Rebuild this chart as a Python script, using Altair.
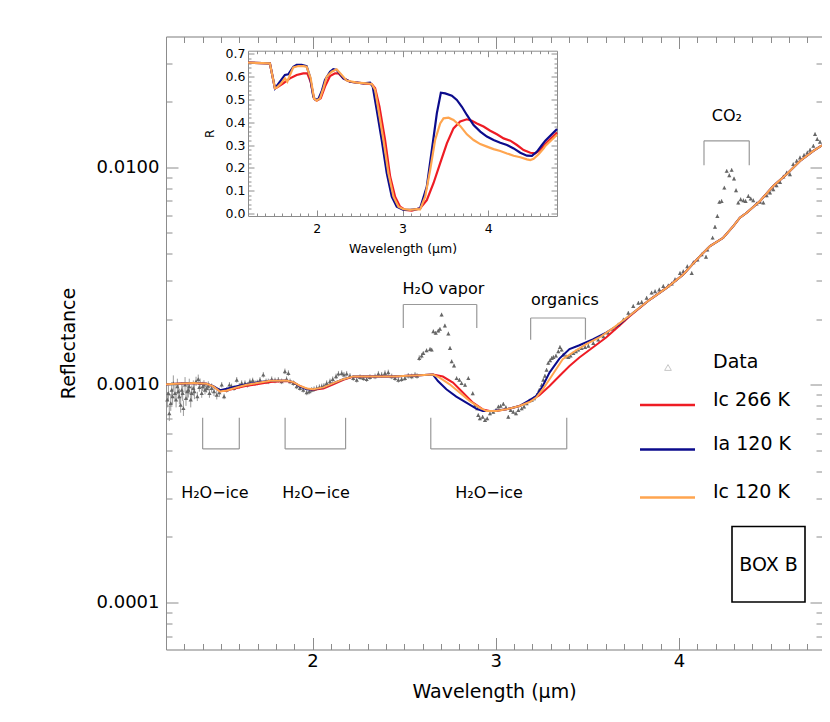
import altair as alt
import pandas as pd

# ---------------------------------------------------------------- data
# observed spectrum (wavelength in micron, reflectance in units of 1e-3)
data_wl = [
    1.207, 1.213, 1.218, 1.226, 1.231, 1.236, 1.240, 1.249, 1.255, 1.262, 1.267, 1.273,
    1.280, 1.286, 1.291, 1.295, 1.304, 1.309, 1.316, 1.322, 1.327, 1.335, 1.340, 1.349,
    1.355, 1.364, 1.371, 1.376, 1.382, 1.386, 1.395, 1.400, 1.407, 1.413, 1.422, 1.431,
    1.437, 1.449, 1.462, 1.477, 1.491, 1.504, 1.517, 1.531, 1.546, 1.558, 1.571, 1.586,
    1.600, 1.613, 1.631, 1.644, 1.658, 1.673, 1.686, 1.698, 1.713, 1.731, 1.746, 1.758,
    1.777, 1.795, 1.813, 1.831, 1.849, 1.858, 1.868, 1.877, 1.895, 1.913, 1.931, 1.949,
    1.968, 1.982, 1.995, 2.008, 2.022, 2.037, 2.050, 2.062, 2.077, 2.095, 2.110, 2.128,
    2.141, 2.159, 2.171, 2.186, 2.204, 2.222, 2.241, 2.259, 2.277, 2.295, 2.313, 2.341,
    2.359, 2.377, 2.395, 2.413, 2.432, 2.450, 2.468, 2.486, 2.504, 2.522, 2.541, 2.559,
    2.570, 2.582, 2.595, 2.604, 2.622, 2.641, 2.650, 2.659, 2.672, 2.686, 2.695, 2.704,
    2.722, 2.741, 2.750, 2.759, 2.772, 2.786, 2.801, 2.813, 2.832, 2.850, 2.874, 2.886,
    2.899, 2.904, 2.913, 2.928, 2.941, 2.953, 2.968, 2.986, 3.001, 3.014, 3.026, 3.041,
    3.055, 3.068, 3.081, 3.095, 3.110, 3.123, 3.141, 3.154, 3.168, 3.183, 3.196, 3.208,
    3.223, 3.237, 3.250, 3.259, 3.268, 3.277, 3.286, 3.296, 3.305, 3.314, 3.328, 3.341,
    3.350, 3.359, 3.368, 3.383, 3.396, 3.408, 3.423, 3.437, 3.450, 3.468, 3.487, 3.505,
    3.532, 3.559, 3.587, 3.614, 3.641, 3.668, 3.696, 3.723, 3.750, 3.778, 3.796, 3.823,
    3.850, 3.869, 3.892, 3.914, 3.941, 3.960, 3.978, 4.005, 4.023, 4.045, 4.069, 4.078,
    4.100, 4.123, 4.147, 4.154, 4.183, 4.196, 4.209, 4.220, 4.232, 4.247, 4.260, 4.274,
    4.287, 4.300, 4.311, 4.323, 4.336, 4.351, 4.363, 4.378, 4.391, 4.405, 4.423, 4.442,
    4.460, 4.478, 4.496, 4.514, 4.532, 4.551, 4.569, 4.587, 4.605, 4.623, 4.642, 4.660,
    4.682, 4.700, 4.715, 4.733, 4.742, 4.754, 4.769,
]
data_r_milli = [
    0.854, 0.915, 0.739, 0.823, 0.948, 0.884, 1.018, 0.915, 0.854, 0.983, 0.932, 0.884,
    0.808, 0.948, 0.915, 0.780, 1.000, 0.868, 0.932, 0.948, 0.983, 0.854, 0.915, 0.966,
    0.932, 1.037, 0.884, 1.061, 0.976, 1.018, 0.915, 0.983, 1.000, 0.948, 0.966, 0.989,
    0.915, 0.966, 0.932, 0.899, 0.922, 1.000, 0.884, 0.948, 1.000, 0.983, 0.966, 1.054,
    0.989, 1.018, 1.018, 1.000, 1.037, 1.047, 1.018, 1.025, 1.054, 1.112, 1.037, 1.037,
    1.061, 1.047, 1.054, 1.037, 1.153, 1.061, 1.132, 1.037, 1.018, 0.983, 0.966, 0.948,
    0.922, 0.932, 0.948, 0.955, 0.966, 0.976, 0.983, 0.989, 1.018, 1.037, 1.061, 1.093,
    1.124, 1.132, 1.112, 1.124, 1.100, 1.073, 1.054, 1.085, 1.073, 1.061, 1.085, 1.093,
    1.124, 1.112, 1.132, 1.140, 1.093, 1.073, 1.054, 1.061, 1.073, 1.100, 1.093, 1.112,
    1.098, 1.327, 1.360, 1.399, 1.439, 1.459, 1.449, 1.761, 1.731, 1.773, 1.805, 2.101,
    1.870, 1.720, 1.474, 1.281, 1.225, 1.072, 1.053, 1.016, 0.998, 1.072, 0.913, 0.807,
    0.778, 0.725, 0.700, 0.712, 0.688, 0.700, 0.738, 0.751, 0.765, 0.793, 0.799, 0.817,
    0.787, 0.712, 0.765, 0.751, 0.738, 0.765, 0.778, 0.793, 0.822, 0.845, 0.851, 0.866,
    0.897, 0.947, 0.998, 1.053, 1.098, 1.171, 1.259, 1.295, 1.327, 1.341, 1.360, 1.424,
    1.490, 1.449, 1.375, 1.351, 1.341, 1.360, 1.399, 1.424, 1.449, 1.474, 1.490, 1.511,
    1.555, 1.611, 1.670, 1.731, 1.805, 1.890, 1.993, 2.140, 2.30, 2.38, 2.40, 2.51,
    2.65, 2.69, 2.74, 2.84, 2.86, 2.92, 3.05, 3.26, 3.32, 3.50, 3.26, 3.65,
    3.76, 3.97, 3.87, 4.18, 4.74, 5.32, 5.96, 6.92, 6.99, 8.05, 9.61, 9.18,
    9.71, 8.86, 7.83, 6.87, 7.12, 7.04, 6.99, 7.37, 7.17, 7.04, 6.80, 6.92,
    6.87, 7.42, 7.64, 7.91, 8.25, 8.55, 9.05, 9.44, 9.28, 10.32, 10.69, 11.08,
    11.36, 11.68, 12.02, 12.54, 14.19, 13.46, 13.09,
]
# relative error-bar half length, by wavelength band
err_band_edges = [1.2, 1.36, 1.50, 2.60, 4.80]
err_band_rel = [0.085, 0.05, 0.03, 0.02]

# models in the main panel (reflectance in units of 1e-3)
tail_wl = [3.841, 3.932, 4.023, 4.114, 4.169, 4.241, 4.296, 4.332, 4.369, 4.442, 4.514,
           4.587, 4.660, 4.733, 4.78]
tail_r = [2.464, 2.789, 3.212, 3.902, 4.340, 4.741, 5.366, 5.861, 6.179, 6.996, 8.202,
          9.279, 10.69, 11.89, 12.60]

red_wl = [1.20, 1.349, 1.422, 1.458, 1.495, 1.531, 1.586, 1.640, 1.713, 1.768, 1.858,
          1.895, 1.931, 1.968, 2.004, 2.059, 2.113, 2.168, 2.222, 2.295, 2.441, 2.520,
          2.584, 2.657, 2.711, 2.766, 2.820, 2.875, 2.929, 2.966, 3.002, 3.057, 3.129,
          3.184, 3.238, 3.293, 3.347, 3.402, 3.456, 3.529, 3.602, 3.674, 3.729] + tail_wl
red_r = [1.007, 1.018, 1.011, 0.983, 0.935, 0.940, 0.965, 0.990, 1.010, 1.030, 1.042,
         1.027, 0.987, 0.958, 0.950, 0.962, 1.005, 1.055, 1.090, 1.093, 1.093, 1.100,
         1.106, 1.114, 1.091, 1.024, 0.921, 0.828, 0.771, 0.757, 0.757, 0.771, 0.799,
         0.842, 0.895, 0.987, 1.098, 1.219, 1.334, 1.484, 1.650, 1.867, 2.060] + tail_r

blue_wl = [1.20, 1.349, 1.422, 1.458, 1.495, 1.531, 1.586, 1.640, 1.713, 1.768, 1.858,
           1.895, 1.931, 1.968, 2.004, 2.059, 2.113, 2.168, 2.222, 2.295, 2.441, 2.520,
           2.584, 2.657, 2.684, 2.730, 2.784, 2.839, 2.893, 2.929, 2.984, 3.057, 3.129,
           3.184, 3.220, 3.256, 3.293, 3.347, 3.402, 3.456, 3.529, 3.602, 3.674, 3.729] + tail_wl
blue_r = [1.007, 1.018, 1.011, 0.985, 0.945, 0.958, 0.985, 1.005, 1.030, 1.045, 1.047,
          1.029, 0.980, 0.955, 0.952, 0.973, 1.018, 1.061, 1.093, 1.093, 1.093, 1.100,
          1.106, 1.114, 1.041, 0.953, 0.882, 0.828, 0.777, 0.757, 0.757, 0.771, 0.799,
          0.851, 0.888, 0.987, 1.138, 1.320, 1.459, 1.519, 1.617, 1.738, 1.892, 2.075] + tail_r

orange_wl = [1.20, 1.349, 1.422, 1.458, 1.495, 1.531, 1.586, 1.640, 1.713, 1.768, 1.858,
             1.895, 1.931, 1.968, 2.004, 2.059, 2.113, 2.168, 2.222, 2.295, 2.441, 2.520,
             2.584, 2.657, 2.693, 2.748, 2.802, 2.857, 2.911, 2.948, 3.002, 3.057, 3.129,
             3.184, 3.220, 3.256, 3.293, 3.329, 3.365, 3.420, 3.493, 3.565, 3.638, 3.729] + tail_wl
orange_r = [1.007, 1.018, 1.011, 0.983, 0.932, 0.942, 0.973, 1.000, 1.025, 1.043, 1.047,
            1.029, 0.989, 0.962, 0.955, 0.973, 1.018, 1.061, 1.093, 1.093, 1.093, 1.100,
            1.106, 1.114, 1.079, 1.005, 0.921, 0.842, 0.785, 0.757, 0.757, 0.771, 0.799,
            0.833, 0.873, 0.953, 1.060, 1.179, 1.311, 1.407, 1.537, 1.650, 1.816, 2.075] + tail_r

# models in the inset (reflectance R)
in_red_wl = [1.20, 1.455, 1.514, 1.541, 1.611, 1.689, 1.767, 1.844, 1.891, 1.930, 1.969,
             2.000, 2.047, 2.097, 2.156, 2.214, 2.253, 2.311, 2.389, 2.545, 2.642, 2.681,
             2.731, 2.797, 2.856, 2.914, 2.972, 3.031, 3.109, 3.167, 3.205, 3.283, 3.361,
             3.439, 3.517, 3.594, 3.672, 3.750, 3.808, 3.867, 3.944, 4.022, 4.100, 4.178,
             4.256, 4.333, 4.411, 4.489, 4.547, 4.606, 4.664, 4.80]
in_red_r = [0.662, 0.659, 0.549, 0.554, 0.571, 0.593, 0.608, 0.615, 0.615, 0.578, 0.505,
            0.495, 0.505, 0.557, 0.603, 0.615, 0.615, 0.593, 0.578, 0.571, 0.568, 0.549,
            0.469, 0.322, 0.161, 0.073, 0.029, 0.015, 0.012, 0.018, 0.022, 0.058, 0.132,
            0.220, 0.307, 0.373, 0.403, 0.413, 0.407, 0.395, 0.381, 0.363, 0.347, 0.329,
            0.319, 0.300, 0.278, 0.266, 0.263, 0.278, 0.304, 0.355]
in_blue_wl = [1.20, 1.455, 1.514, 1.572, 1.630, 1.669, 1.728, 1.767, 1.825, 1.883, 1.922,
              1.961, 1.981, 2.019, 2.058, 2.097, 2.156, 2.194, 2.233, 2.311, 2.389, 2.545,
              2.622, 2.653, 2.700, 2.758, 2.817, 2.875, 2.933, 3.011, 3.089, 3.167, 3.205,
              3.283, 3.342, 3.400, 3.447, 3.497, 3.575, 3.633, 3.692, 3.750, 3.828, 3.906,
              3.983, 4.061, 4.139, 4.217, 4.295, 4.372, 4.450, 4.508, 4.567, 4.625, 4.664, 4.80]
in_blue_r = [0.662, 0.659, 0.549, 0.578, 0.608, 0.611, 0.644, 0.652, 0.652, 0.647, 0.600,
             0.513, 0.501, 0.501, 0.535, 0.586, 0.622, 0.633, 0.630, 0.593, 0.578, 0.571,
             0.574, 0.557, 0.454, 0.322, 0.176, 0.073, 0.029, 0.015, 0.015, 0.018, 0.022,
             0.117, 0.278, 0.439, 0.530, 0.527, 0.517, 0.498, 0.468, 0.432, 0.388, 0.359,
             0.337, 0.322, 0.310, 0.300, 0.285, 0.266, 0.253, 0.252, 0.271, 0.300, 0.319, 0.370]
in_orange_wl = [1.20, 1.455, 1.514, 1.541, 1.592, 1.630, 1.658, 1.689, 1.728, 1.786, 1.844,
                1.883, 1.930, 1.969, 2.000, 2.039, 2.078, 2.117, 2.175, 2.233, 2.292, 2.350,
                2.467, 2.583, 2.642, 2.681, 2.720, 2.778, 2.836, 2.895, 2.953, 3.011, 3.089,
                3.167, 3.205, 3.264, 3.322, 3.380, 3.439, 3.478, 3.536, 3.594, 3.672, 3.750,
                3.828, 3.906, 3.983, 4.061, 4.139, 4.217, 4.295, 4.372, 4.450, 4.489, 4.528,
                4.586, 4.645, 4.664, 4.80]
in_orange_r = [0.662, 0.659, 0.549, 0.554, 0.574, 0.593, 0.578, 0.608, 0.641, 0.647, 0.647,
               0.644, 0.593, 0.505, 0.495, 0.505, 0.549, 0.600, 0.622, 0.633, 0.608, 0.583,
               0.574, 0.571, 0.568, 0.542, 0.454, 0.322, 0.176, 0.073, 0.029, 0.018, 0.015,
               0.018, 0.017, 0.073, 0.190, 0.322, 0.395, 0.417, 0.420, 0.410, 0.384, 0.347,
               0.322, 0.304, 0.293, 0.282, 0.274, 0.263, 0.253, 0.246, 0.237, 0.234, 0.239,
               0.259, 0.285, 0.296, 0.345]

# band brackets: x0, x1, reflectance at the open end and at the closed end
br_x0 = [1.40, 1.85, 2.645, 2.495, 3.190, 4.136]
br_x1 = [1.60, 2.18, 3.387, 2.896, 3.489, 4.383]
br_open = [0.705e-3, 0.705e-3, 0.705e-3, 1.825e-3, 1.612e-3, 10.21e-3]
br_closed = [0.507e-3, 0.507e-3, 0.507e-3, 2.339e-3, 2.028e-3, 13.22e-3]

ann_text = ["H₂O−ice", "H₂O−ice", "H₂O−ice", "H₂O vapor", "organics", "CO₂"]
ann_wl = [1.467, 2.019, 2.963, 2.714, 3.377, 4.261]
ann_r = [0.318e-3, 0.318e-3, 0.318e-3, 2.77e-3, 2.464e-3, 17.18e-3]

legend_labels = ["Data", "Ic 266 K", "Ia 120 K", "Ic 120 K"]
model_colors = ["#ee1c24", "#0b0b8c", "#ffa54f"]

main_x_major = [2, 3, 4]
main_y_major = [1e-4, 1e-3, 1e-2]
inset_x_major = [2, 3, 4]
inset_y_major = [0.0, 0.1, 0.2, 0.3, 0.4, 0.5, 0.6, 0.7]

# ---------------------------------------------------------------- layout
W, H = 656, 613
X_DOM = [1.2, 4.78]
Y_DOM = [6.07e-5, 0.0399]
IX_DOM = [1.2, 4.8]
IY_DOM = [-0.012, 0.7145]
IX_RANGE = [82, 391]
IY_RANGE = [179.5, 14.2]
AX = "#8c8c8c"
FONT = "DejaVu Sans"

main_x_minor = [round(1.2 + 0.1 * i, 1) for i in range(1, 36)]
main_x_minor = [v for v in main_x_minor if abs(v - round(v)) > 1e-6]
main_y_minor = [7e-5, 8e-5, 9e-5] + [k * 1e-4 for k in range(2, 10)] + \
               [k * 1e-3 for k in range(2, 10)] + [2e-2, 3e-2]
inset_x_minor = [round(1.2 + 0.1 * i, 1) for i in range(1, 36)]
inset_x_minor = [v for v in inset_x_minor if abs(v - round(v)) > 1e-6]
inset_y_minor = [round(0.02 * i, 2) for i in range(1, 35) if i % 5 != 0]


def sx():
    return alt.Scale(domain=X_DOM, nice=False, zero=False)


def sy():
    return alt.Scale(type="log", domain=Y_DOM, nice=False)


def isx():
    return alt.Scale(domain=IX_DOM, range=IX_RANGE, nice=False, zero=False)


def isy():
    return alt.Scale(domain=IY_DOM, range=IY_RANGE, nice=False, zero=False)


def MX(f="wl"):
    return alt.X(f"{f}:Q", scale=sx(), axis=None)


def MY(f="R"):
    return alt.Y(f"{f}:Q", scale=sy(), axis=None)


# ---------------------------------------------------------------- frames
pts = pd.DataFrame({"wl": data_wl, "R": [v * 1e-3 for v in data_r_milli]})
band = pd.cut(pts["wl"], bins=err_band_edges, labels=False, include_lowest=True)
pts["rel"] = [err_band_rel[int(b)] for b in band]
pts["lo"] = pts["R"] / (1 + pts["rel"])
pts["hi"] = pts["R"] * (1 + pts["rel"])

layers = []
layers.append(alt.Chart(pts).mark_rule(color="#8f8f8f", strokeWidth=0.9).encode(
    x=MX(), y=MY("lo"), y2="hi:Q"))
layers.append(alt.Chart(pts).mark_point(shape="triangle-up", filled=True, size=18,
                                        color="#666666", opacity=1).encode(x=MX(), y=MY()))

for wl, rr, col in [(red_wl, red_r, model_colors[0]), (blue_wl, blue_r, model_colors[1]),
                    (orange_wl, orange_r, model_colors[2])]:
    df = pd.DataFrame({"wl": wl, "R": [v * 1e-3 for v in rr]})
    layers.append(alt.Chart(df).mark_line(color=col, strokeWidth=2).encode(x=MX(), y=MY()))

segs = []
for a, b, o, c in zip(br_x0, br_x1, br_open, br_closed):
    segs.append({"x": a, "x2": a, "y": o, "y2": c})
    segs.append({"x": b, "x2": b, "y": o, "y2": c})
    segs.append({"x": a, "x2": b, "y": c, "y2": c})
layers.append(alt.Chart(pd.DataFrame(segs)).mark_rule(color="#999999", strokeWidth=1.2).encode(
    x=MX("x"), x2="x2:Q", y=MY("y"), y2="y2:Q"))

ann = pd.DataFrame({"wl": ann_wl, "R": ann_r, "t": ann_text})
layers.append(alt.Chart(ann).mark_text(font=FONT, fontSize=16, color="black",
                                       baseline="middle").encode(x=MX(), y=MY(), text="t:N"))

# inset curves
for wl, rr, col in [(in_red_wl, in_red_r, model_colors[0]), (in_blue_wl, in_blue_r, model_colors[1]),
                    (in_orange_wl, in_orange_r, model_colors[2])]:
    df = pd.DataFrame({"iwl": wl, "iR": rr})
    layers.append(alt.Chart(df).mark_line(color=col, strokeWidth=2.2).encode(
        x=alt.X("iwl:Q", scale=isx(), axis=None), y=alt.Y("iR:Q", scale=isy(), axis=None)))

# ---------------------------------------------------------------- axes
base_ax = dict(grid=False, tickColor=AX, domainColor=AX, tickWidth=1, domainWidth=1,
               labelFont=FONT, titleFont=FONT, labelColor="black", titleColor="black",
               titleFontWeight="normal", labelFlush=False, labelOverlap=False)


def tick_axis(orient, offset, values, size, domain=False):
    return alt.Axis(orient=orient, offset=offset, values=values, labels=False, ticks=True,
                    tickSize=size, domain=domain, title=None, **base_ax)


dummy_m = pd.DataFrame({"wl": [2.0], "R": [1e-3]})
dummy_i = pd.DataFrame({"iwl": [2.0], "iR": [0.3]})


def ax_layer(xa, ya, inset=False):
    if inset:
        return alt.Chart(dummy_i).mark_point(opacity=0).encode(
            x=alt.X("iwl:Q", scale=isx(), axis=xa), y=alt.Y("iR:Q", scale=isy(), axis=ya))
    return alt.Chart(dummy_m).mark_point(opacity=0).encode(
        x=alt.X("wl:Q", scale=sx(), axis=xa), y=alt.Y("R:Q", scale=sy(), axis=ya))


# main labelled axes
layers.append(ax_layer(
    alt.Axis(orient="bottom", values=main_x_major, ticks=False, tickSize=0, domain=True,
             labelFontSize=18, labelPadding=3, title="Wavelength (µm)", titleFontSize=19,
             titlePadding=12, **base_ax),
    alt.Axis(orient="left", values=main_y_major, format=".4f", ticks=False, tickSize=0,
             domain=True, labelFontSize=18, labelPadding=7, title="Reflectance",
             titleFontSize=19, titlePadding=18, **base_ax)))
# inward ticks, bottom/left
layers.append(ax_layer(tick_axis("top", -H, main_x_major, 12), tick_axis("right", -W, main_y_major, 12)))
layers.append(ax_layer(tick_axis("top", -H, main_x_minor, 6), tick_axis("right", -W, main_y_minor, 6)))
# top/right borders with inward ticks
layers.append(ax_layer(tick_axis("bottom", -H, main_x_major, 12, True),
                       tick_axis("left", -W, main_y_major, 12, True)))
layers.append(ax_layer(tick_axis("bottom", -H, main_x_minor, 6),
                       tick_axis("left", -W, main_y_minor, 6)))

# inset axes
IB = IY_RANGE[0]
IT = IY_RANGE[1]
IL = IX_RANGE[0]
IR = IX_RANGE[1]
layers.append(ax_layer(
    alt.Axis(orient="bottom", offset=IB - H, values=inset_x_major, ticks=False, tickSize=0,
             domain=True, labelFontSize=12.5, labelPadding=6, title="Wavelength (µm)",
             titleFontSize=12.5, titlePadding=8, **base_ax),
    alt.Axis(orient="left", offset=-IL, values=inset_y_major, format=".1f", ticks=False,
             tickSize=0, domain=True, labelFontSize=12.5, labelPadding=3, title="R",
             titleFontSize=12, titlePadding=9, **base_ax), inset=True))
layers.append(ax_layer(tick_axis("top", -IB, inset_x_major, 6),
                       tick_axis("right", IL - W, inset_y_major, 6), inset=True))
layers.append(ax_layer(tick_axis("top", -IB, inset_x_minor, 3),
                       tick_axis("right", IL - W, inset_y_minor, 3), inset=True))
layers.append(ax_layer(tick_axis("bottom", IT - H, inset_x_major, 6, True),
                       tick_axis("left", -IR, inset_y_major, 6, True), inset=True))
layers.append(ax_layer(tick_axis("bottom", IT - H, inset_x_minor, 3),
                       tick_axis("left", -IR, inset_y_minor, 3), inset=True))

# ---------------------------------------------------------------- legend & box
one = pd.DataFrame({"k": [0]})
layers.append(alt.Chart(one).mark_point(shape="triangle-up", filled=False, size=45,
                                        color="#b0b0b0", strokeWidth=1).encode(
    x=alt.value(502), y=alt.value(331)))
leg_y_text = [325, 363, 407.5, 455.5]
leg_y_line = [368.5, 413, 461]
for i, lab in enumerate(legend_labels):
    layers.append(alt.Chart(one).mark_text(font=FONT, fontSize=19, color="black", align="left",
                                           baseline="middle").encode(
        x=alt.value(547), y=alt.value(leg_y_text[i]), text=alt.value(lab)))
for i, col in enumerate(model_colors):
    layers.append(alt.Chart(one).mark_rule(color=col, strokeWidth=2.5).encode(
        x=alt.value(474), x2=alt.value(529), y=alt.value(leg_y_line[i])))

layers.append(alt.Chart(one).mark_rect(fill="white", stroke="black", strokeWidth=1.6).encode(
    x=alt.value(566), x2=alt.value(639), y=alt.value(490), y2=alt.value(565.5)))
layers.append(alt.Chart(one).mark_text(font=FONT, fontSize=19, color="black",
                                       baseline="middle").encode(
    x=alt.value(602.5), y=alt.value(528.5), text=alt.value("BOX B")))

chart = alt.layer(*layers).resolve_scale(x="independent", y="independent").properties(
    width=W, height=H,
    autosize=alt.AutoSizeParams(type="none"),
    padding={"left": 158, "top": 28.5, "right": 0, "bottom": 64.5},
).configure_view(stroke="transparent").configure(background="white")

chart.save("out.html", embed_options={"renderer": "svg", "actions": False})
